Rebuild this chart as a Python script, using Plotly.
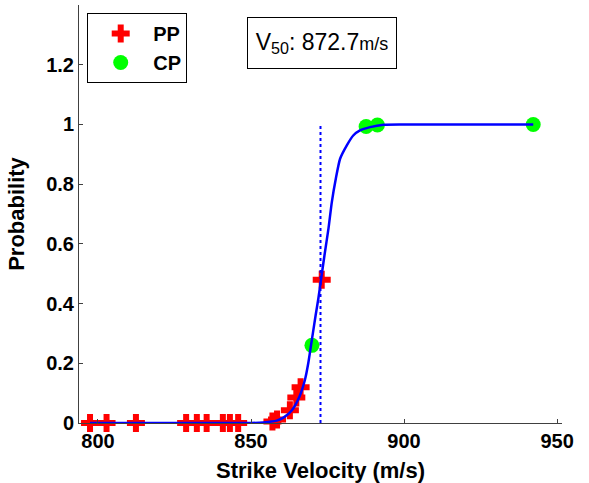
import plotly.graph_objects as go

# PP (partial penetration) points: strike velocity (m/s) and plotted probability
pp_v = [797.4, 802.8, 812.4, 828.8, 832.3, 835.5, 840.8, 843.1, 845.8,
        857.0, 858.5, 862.7, 864.8, 866.2, 873.1]
pp_p = [0, 0, 0, 0, 0, 0, 0, 0, 0,
        0.005, 0.012, 0.043, 0.085, 0.12, 0.48]

# CP (complete penetration) points
cp_v = [869.9, 887.6, 891.3, 942.2]
cp_p = [0.26, 0.993, 0.998, 1.0]

# Fitted probability curve
curve_v = [797.4, 850.0, 854.0, 858.4, 860.6, 863.3, 865.8, 867.6, 868.7, 869.6,
           870.2, 871.1, 872.0, 872.9, 874.0, 875.3, 876.4, 877.7, 879.1, 881.3,
           883.4, 885.6, 888.9, 893.3, 900.0, 942.2]
curve_p = [0.0, 0.0, 0.002, 0.008, 0.018, 0.042, 0.088, 0.144, 0.2, 0.26,
           0.30, 0.36, 0.417, 0.482, 0.562, 0.651, 0.740, 0.818, 0.885, 0.930,
           0.963, 0.980, 0.991, 0.999, 1.0, 1.0]

v50 = 872.7
v50_line_p = [0, 1]

x_ticks = [800, 850, 900, 950]
y_ticks = [0, 0.2, 0.4, 0.6, 0.8, 1, 1.2]
y_tick_labels = ["0", "0.2", "0.4", "0.6", "0.8", "1", "1.2"]

FONT = "Liberation Sans, Arial, Helvetica, sans-serif"

fig = go.Figure()
fig.add_trace(go.Scatter(
    x=pp_v, y=pp_p, mode="markers", name="PP", cliponaxis=False,
    marker=dict(symbol="cross", size=15, color="#ff0000", line=dict(width=0)),
))
fig.add_trace(go.Scatter(
    x=cp_v, y=cp_p, mode="markers", name="CP", cliponaxis=False,
    marker=dict(symbol="circle", size=15, color="#00ff00", line=dict(width=0)),
))
fig.add_trace(go.Scatter(
    x=curve_v, y=curve_p, mode="lines", showlegend=False, cliponaxis=False,
    line=dict(color="#0000ff", width=2.5, shape="spline", smoothing=0.6),
))
fig.add_trace(go.Scatter(
    x=[v50, v50], y=v50_line_p, mode="lines", showlegend=False,
    line=dict(color="#0000ff", width=2, dash="dot"),
))

fig.add_annotation(
    xref="paper", yref="paper", x=0.503, y=0.910, xanchor="center", yanchor="middle",
    text="V<sub>50</sub>: 872.7<span style='font-size:18px'>m/s</span>",
    showarrow=False, font=dict(family=FONT, size=23, color="#000000"),
    width=138, height=40, align="center", valign="middle",
    bordercolor="#000000", borderwidth=1, borderpad=5, bgcolor="#ffffff",
)

fig.update_layout(
    width=589, height=483,
    margin=dict(l=79, r=27, t=5, b=60, autoexpand=False),
    paper_bgcolor="#ffffff", plot_bgcolor="#ffffff",
    font=dict(family=FONT, color="#000000"),
    showlegend=True,
    legend=dict(
        x=0.017, y=0.981, xanchor="left", yanchor="top",
        bordercolor="#000000", borderwidth=1, bgcolor="#ffffff",
        font=dict(family=FONT, size=20, color="#000000", weight="bold"),
        itemwidth=55, tracegroupgap=0,
    ),
    xaxis=dict(
        range=[793.8, 951.6], tickvals=x_ticks, ticks="inside", ticklen=4,
        tickcolor="#404040", showgrid=False, zeroline=False, automargin=False,
        showline=True, linecolor="#404040", linewidth=1,
        tickfont=dict(family=FONT, size=20, color="#000000", weight="bold"),
        title=dict(text="Strike Velocity (m/s)",
                   font=dict(family=FONT, size=22, color="#000000", weight="bold")),
    ),
    yaxis=dict(
        range=[0, 1.4], tickvals=y_ticks, ticktext=y_tick_labels, ticks="inside", ticklen=4,
        tickcolor="#404040", showgrid=False, zeroline=False, automargin=False,
        showline=True, linecolor="#404040", linewidth=1,
        tickfont=dict(family=FONT, size=20, color="#000000", weight="bold"),
        title=dict(text="Probability",
                   font=dict(family=FONT, size=22, color="#000000", weight="bold")),
    ),
)

fig.write_html("out.html", config={"displayModeBar": False},
               post_script="document.body.style.margin='0px';")
